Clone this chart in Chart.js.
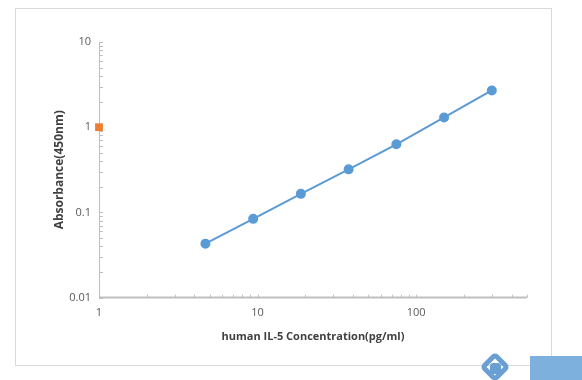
<!DOCTYPE html>
<html><head><meta charset="utf-8">
<script src="https://cdn.jsdelivr.net/npm/chart.js@4/dist/chart.umd.min.js"></script>
<style>
html,body{margin:0;padding:0;background:#fff;}
#wrap{position:relative;width:582px;height:380px;overflow:hidden;}
#frame{position:absolute;left:15px;top:8px;width:537px;height:358px;border:1px solid #d9d9d9;box-sizing:border-box;}
#c{position:absolute;left:0;top:0;}
#blue{position:absolute;left:530px;top:356px;width:52px;height:24px;background:#7eb0dd;}
#logo{position:absolute;left:484px;top:356px;width:22px;height:22px;transform:rotate(45deg);border:5px solid #6a9fd4;border-radius:5px;box-sizing:border-box;}
#logo2{position:absolute;left:490px;top:363px;width:11px;height:11px;background:#6a9fd4;border-radius:3px;}
</style></head>
<body><div id="wrap"><div id="frame"></div><canvas id="c" width="582" height="380"></canvas><div id="logo"></div><div id="logo2"></div><div id="blue"></div></div>
<script>
const concentrations = [4.69, 9.38, 18.75, 37.5, 75, 150, 300];
const absorbance = [0.043, 0.084, 0.165, 0.32, 0.63, 1.3, 2.7];
const extraPoint = [{x:1, y:1}];
const xTicks = [1, 10, 100];
const yTicks = [0.01, 0.1, 1, 10];
const xTitle = 'human IL-5 Concentration(pg/ml)';
const yTitle = 'Absorbance(450nm)';

const axisColor = '#bfbfbf';
const minorTicks = {
  id: 'minorTicks',
  beforeDatasetsDraw(chart) {
    const ctx = chart.ctx, xs = chart.scales.x, ys = chart.scales.y;
    ctx.save();
    ctx.strokeStyle = axisColor;
    ctx.lineWidth = 1;
    for (let d = 0.01; d < 10; d *= 10) {
      for (let k = 1; k <= 10; k++) {
        const v = d * k;
        if (v > 10.0001) continue;
        const py = Math.round(ys.getPixelForValue(v)) + 0.5;
        ctx.beginPath(); ctx.moveTo(xs.left, py); ctx.lineTo(xs.left + 4, py); ctx.stroke();
      }
    }
    for (let d = 1; d < 1000; d *= 10) {
      for (let k = 1; k < 10; k++) {
        const v = d * k;
        if (v > 500) continue;
        const px = Math.round(xs.getPixelForValue(v)) + 0.5;
        ctx.beginPath(); ctx.moveTo(px, ys.bottom); ctx.lineTo(px, ys.bottom - 3); ctx.stroke();
      }
    }
    ctx.beginPath(); ctx.moveTo(xs.left + 0.5, ys.top); ctx.lineTo(xs.left + 0.5, ys.bottom); ctx.stroke();
    ctx.lineWidth = 2;
    ctx.beginPath(); ctx.moveTo(xs.left, ys.bottom); ctx.lineTo(xs.right, ys.bottom); ctx.stroke();
    ctx.restore();
  }
};

new Chart(document.getElementById('c'), {
  type: 'scatter',
  data: {
    datasets: [
      { data: concentrations.map((x, i) => ({x, y: absorbance[i]})), showLine: true,
        borderColor: '#5b9bd5', backgroundColor: '#5b9bd5', borderWidth: 2, pointRadius: 4, pointHoverRadius: 4, clip: false },
      { data: extraPoint, pointStyle: 'rect', pointRadius: 5.5, borderWidth: 0, borderColor: '#ed7d31', backgroundColor: '#ed7d31', showLine: false, clip: false }
    ]
  },
  options: {
    responsive: false, animation: false,
    layout: { padding: { left: 52, right: 55, top: 42, bottom: 0 } },
    plugins: { legend: { display: false }, tooltip: { enabled: false } },
    scales: {
      x: { type: 'logarithmic', min: 1, max: 500,
        afterBuildTicks: s => { s.ticks = xTicks.map(v => ({value: v})); },
        ticks: { callback: v => String(v), color: '#595959', font: { family: 'Open Sans', size: 11 }, padding: 9, maxRotation: 0 },
        grid: { display: false, drawTicks: false }, border: { display: false },
        title: { display: true, text: xTitle, color: '#404040', font: { family: 'Open Sans', size: 11, weight: 'bold' }, padding: { top: 1, bottom: 37 } } },
      y: { type: 'logarithmic', min: 0.01, max: 10,
        afterBuildTicks: s => { s.ticks = yTicks.map(v => ({value: v})); },
        ticks: { callback: v => String(v), color: '#595959', font: { family: 'Open Sans', size: 11 }, padding: 8 },
        grid: { display: false, drawTicks: false }, border: { display: false },
        afterFit: s => { s.width = 47; },
        title: { display: true, text: yTitle, color: '#404040', font: { family: 'Open Sans', size: 12, weight: 'bold' }, padding: { top: 0, bottom: 4 } } }
    }
  },
  plugins: [minorTicks]
});
</script></body></html>
